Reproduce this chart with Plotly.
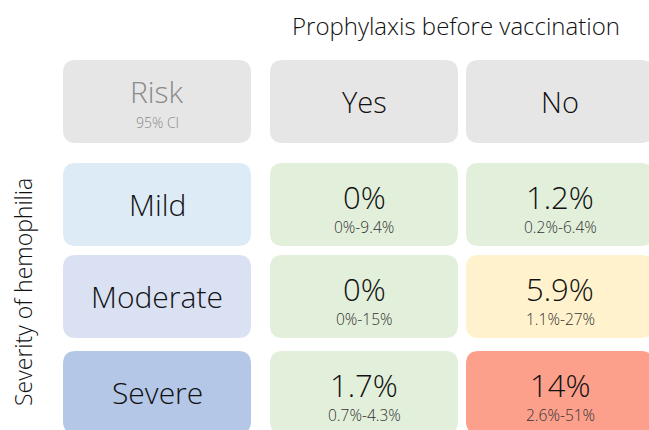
import plotly.graph_objects as go

# ---- data ----
column_labels = ["Yes", "No"]
severity_labels = ["Mild", "Moderate", "Severe"]
risk_yes = [0, 0, 1.7]
ci_low_yes = [0, 0, 0.7]
ci_high_yes = [9.4, 15, 4.3]
risk_no = [1.2, 5.9, 14]
ci_low_no = [0.2, 1.1, 2.6]
ci_high_no = [6.4, 27, 51]
title_text = "Prophylaxis before vaccination"
row_title = "Severity of hemophilia"
corner_label = "Risk"
corner_sub = "95% CI"

# ---- styles / layout ----
W, H = 649, 430
FONT = "Open Sans"
col_left = [63, 270, 466]
col_w = 188
row_top = [60, 163, 255, 351]
row_h = 83
R = 13
header_color = "#e7e6e6"
severity_colors = ["#ddebf7", "#dae1f3", "#b4c7e7"]


def risk_color(v):
    if v < 5:
        return "#e2efda"
    if v < 10:
        return "#fff2cc"
    return "#fc9f8b"


def rrect(x0, y0, x1, y1, r):
    return (f"M{x0+r},{y0} L{x1-r},{y0} Q{x1},{y0} {x1},{y0+r} "
            f"L{x1},{y1-r} Q{x1},{y1} {x1-r},{y1} L{x0+r},{y1} "
            f"Q{x0},{y1} {x0},{y1-r} L{x0},{y0+r} Q{x0},{y0} {x0+r},{y0} Z")


def pct(v):
    return f"{v:g}%"


fig = go.Figure()
shapes = []
ann = []


def cell(ci, ri, color):
    x0 = col_left[ci]
    y0 = row_top[ri]
    shapes.append(dict(type="path", xref="x", yref="y",
                       path=rrect(x0, y0, x0 + col_w, y0 + row_h, R),
                       fillcolor=color, line=dict(width=0), layer="below"))
    return x0 + col_w / 2, y0 + row_h / 2


def text(x, y, s, size, color, weight=300):
    ann.append(dict(x=x, y=y, xref="x", yref="y", text=s, showarrow=False,
                    xanchor="center", yanchor="middle",
                    font=dict(family=FONT, size=size, color=color, weight=weight)))


# header row
cx, cy = cell(0, 0, header_color)
text(cx, cy - 10, corner_label, 30, "#8a8a8a")
text(cx, cy + 21, corner_sub, 14, "#8a8a8a")
for j, lab in enumerate(column_labels):
    cx, cy = cell(j + 1, 0, header_color)
    text(cx, cy, lab, 29, "#111111")

# body rows
cols = [(risk_yes, ci_low_yes, ci_high_yes), (risk_no, ci_low_no, ci_high_no)]
for i, sev in enumerate(severity_labels):
    cx, cy = cell(0, i + 1, severity_colors[i])
    text(cx, cy, sev, 30, "#111111")
    for j, (rv, lo, hi) in enumerate(cols):
        cx, cy = cell(j + 1, i + 1, risk_color(rv[i]))
        text(cx, cy - 8, pct(rv[i]), 31, "#111111")
        text(cx, cy + 22, f"{pct(lo[i])}-{pct(hi[i])}", 15.5, "#333333")

# titles
text(456, 25, title_text, 24, "#111111")
ann.append(dict(x=23, y=292, xref="x", yref="y", text=row_title, showarrow=False,
                textangle=-90, xanchor="center", yanchor="middle",
                font=dict(family=FONT, size=23, color="#111111", weight=300)))

# invisible trace to anchor axes
fig.add_trace(go.Scatter(x=[0, W], y=[0, H], mode="markers",
                         marker=dict(opacity=0), hoverinfo="skip", showlegend=False))

fig.update_layout(
    width=W, height=H, margin=dict(l=0, r=0, t=0, b=0),
    paper_bgcolor="white", plot_bgcolor="white",
    shapes=shapes, annotations=ann, showlegend=False,
    xaxis=dict(range=[0, W], visible=False, fixedrange=True),
    yaxis=dict(range=[H, 0], visible=False, fixedrange=True),
)

fig.write_html("out.html", config={"displayModeBar": False},
               post_script="document.body.style.margin='0';document.body.style.overflow='hidden';")
